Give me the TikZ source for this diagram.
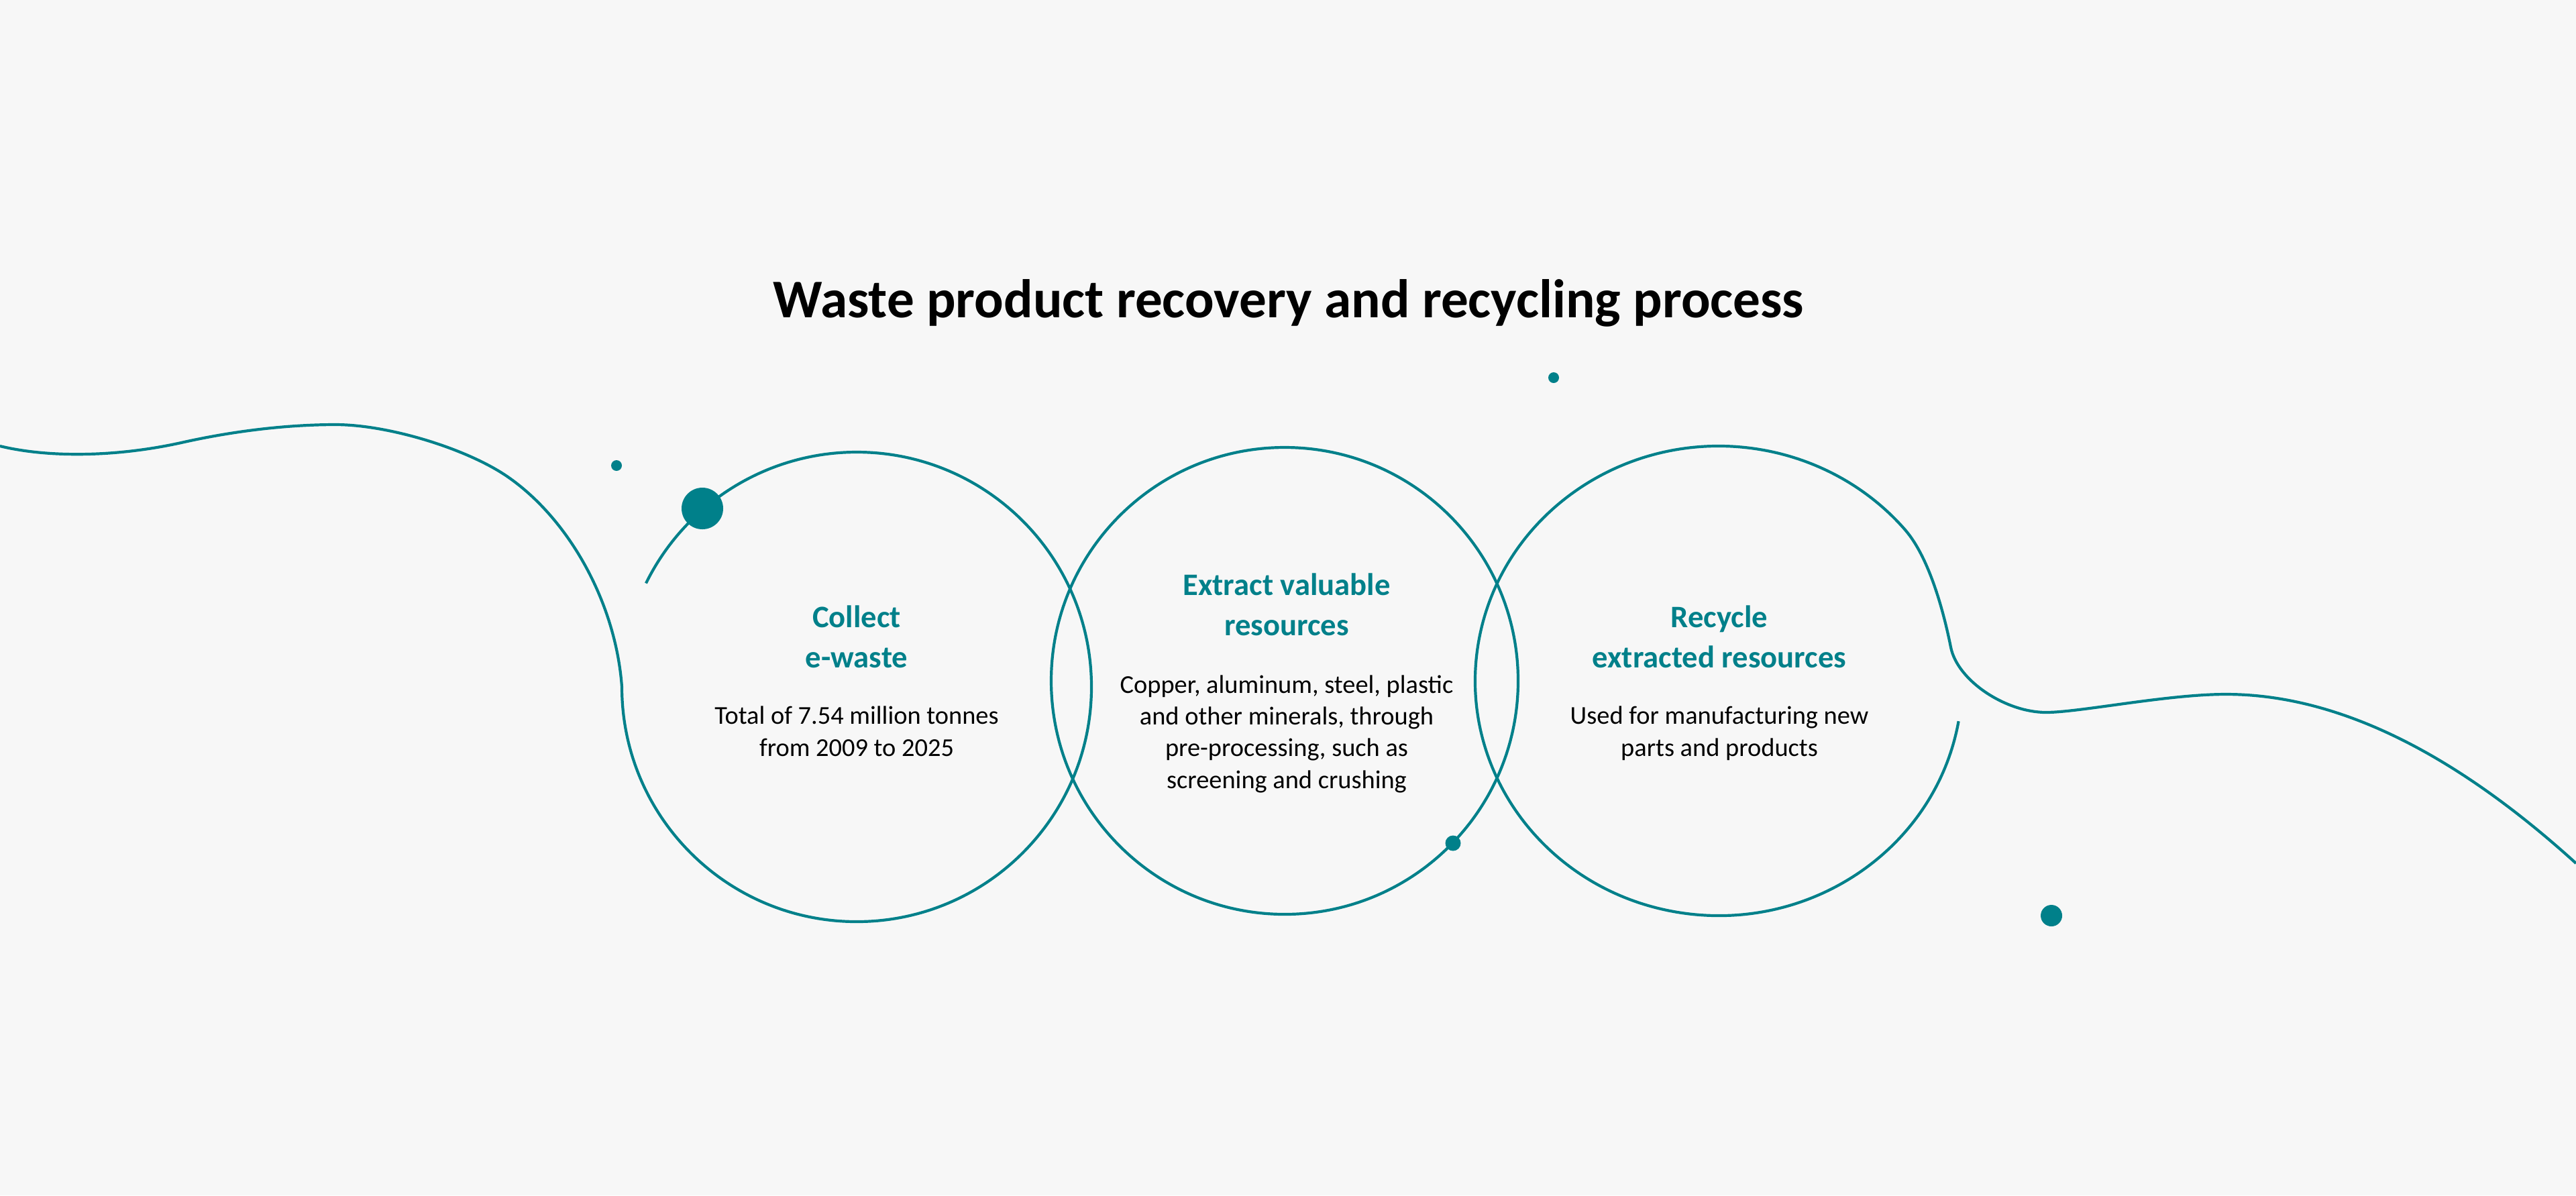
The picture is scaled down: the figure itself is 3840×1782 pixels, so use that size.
\documentclass[tikz,border=0pt]{standalone}
\usepackage{fontspec}
\setmainfont{Carlito}
\definecolor{seateal}{RGB}{0,128,138}
\definecolor{paper}{RGB}{247,247,247}

\begin{document}
\begin{tikzpicture}[x=0.25pt,y=0.25pt,yscale=-1,xscale=1,
  wave/.style={draw=seateal, line width=1.05pt},
  dot/.style={fill=seateal, draw opacity=0},
  head/.style={text=seateal, font=\bfseries\fontsize{11.65}{15}\selectfont, align=center, inner sep=0.75pt, anchor=base},
  body/.style={text=black, font=\fontsize{9.6}{11.8}\selectfont, align=center, inner sep=0.75pt, anchor=base}]
%set diagram left start at 0, and has height of 1782
\fill [paper] (0,0) rectangle (3840,1782);
\useasboundingbox (0,0) rectangle (3840,1782);

% ring centres
\coordinate (c1) at (1277,1024);
\coordinate (c2) at (1915,1015);
\coordinate (c3) at (2562,1015);

%Curve: left wave into first ring
\draw [wave] (0,665) .. controls (70,682) and (170,682) .. (270,660) .. controls (350,642) and (430,633) .. (500,633) .. controls (580,633) and (700,670) .. (760,713) .. controls (850,777) and (918,900) .. (927,1024) arc [start angle=180, end angle=-153.8, radius=350];
%Shape: Circle
\draw [wave] (c2) circle [radius=348];
%Curve: third ring into right wave
\draw [wave] (c3) ++(9.9:363 and 350) arc [start angle=9.9, end angle=320, x radius=363, y radius=350] .. controls (2879,835) and (2900,925) .. (2908,965) .. controls (2918,1015) and (2990,1062) .. (3050,1062) .. controls (3100,1062) and (3230,1035) .. (3318,1035) .. controls (3481,1035) and (3655,1119) .. (3840,1287);

%Shape: Circle
\fill [dot] (919,694) circle [radius=8];
%Shape: Circle
\fill [dot] (1047,758) circle [radius=31];
%Shape: Circle
\fill [dot] (2316,563) circle [radius=8];
%Shape: Circle
\fill [dot] (2166,1257) circle [radius=11.5];
%Shape: Circle
\fill [dot] (3058,1365) circle [radius=16];

% Text Node
\node [anchor=base, inner sep=0.75pt, font=\bfseries\fontsize{20.3}{24}\selectfont] (title) at (1921,473) {Waste product recovery and recycling process};
% Text Node
\node [head] (collect) at (1277,995) {Collect\\e-waste};
% Text Node
\node [body] (collecttxt) at (1277,1127) {Total of 7.54 million tonnes\\from 2009 to 2025};
% Text Node
\node [head] (extract) at (1918,947) {Extract valuable\\resources};
% Text Node
\node [body] (extracttxt) at (1918,1175) {Copper, aluminum, steel, plastic\\and other minerals, through\\pre-processing, such as\\screening and crushing};
% Text Node
\node [head] (recycle) at (2563,995) {Recycle\\extracted resources};
% Text Node
\node [body] (recycletxt) at (2563,1127) {Used for manufacturing new\\parts and products};

\end{tikzpicture}
\end{document}
